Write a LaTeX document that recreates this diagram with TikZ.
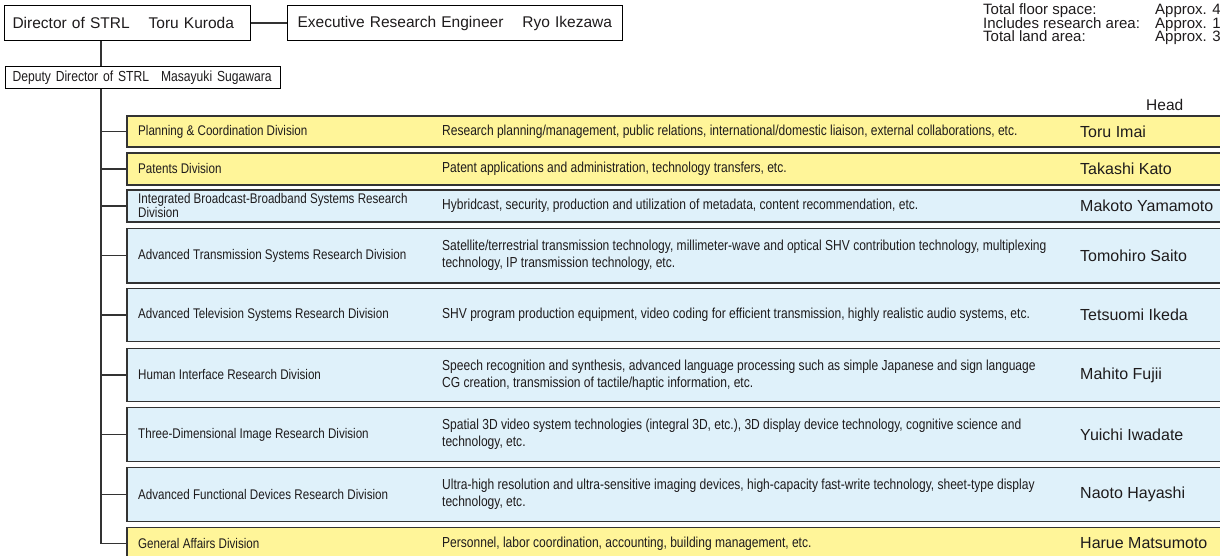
\documentclass[tikz,border=0pt]{standalone}
\usepackage{fontspec}
\setmainfont{Liberation Sans}
\newfontfamily\narrowfont{Liberation Sans}[FakeStretch=0.83]
\definecolor{rowyellow}{HTML}{FFF599}
\definecolor{rowblue}{HTML}{DFF1FA}
\definecolor{linegray}{HTML}{333333}
\definecolor{txt}{HTML}{1E1B1C}
\begin{document}
\begin{tikzpicture}[x=1pt,y=-1pt,
  topbox/.style={draw=black, line width=1.1pt, fill=white, anchor=north west, inner ysep=0pt, align=left, text=txt},
  rowbox/.style={draw=linegray, line width=1.8pt, anchor=north west, minimum width=1110pt, inner sep=0pt},
  conn/.style={draw=linegray, line width=1.5pt},
  divname/.style={font=\narrowfont\fontsize{14}{12.5}\selectfont, anchor=west, align=left, inner sep=0pt, text=txt},
  desc/.style={font=\narrowfont\fontsize{14.5}{17}\selectfont, anchor=west, align=left, inner sep=0pt, text=txt},
  headname/.style={font=\fontsize{16}{18}\selectfont, anchor=west, inner sep=0pt, text=txt},
  info/.style={font=\fontsize{15}{16}\selectfont, anchor=base west, inner sep=0pt, text=txt}
]
\useasboundingbox (0,0) rectangle (1220,556);

% top boxes
\node[topbox, inner xsep=8pt, text width=230pt, minimum height=35pt, font=\fontsize{15.5}{18}\selectfont] (dir) at (4,5)
  {\mbox{Director of STRL\hspace{19pt}Toru Kuroda}};
\node[topbox, inner xsep=10pt, text width=315pt, minimum height=35pt, font=\fontsize{15.5}{18}\selectfont] (exe) at (287,5)
  {\mbox{Executive Research Engineer\hspace{19pt}Ryo Ikezawa}};
\node[topbox, inner xsep=7pt, text width=261pt, minimum height=22pt, font=\narrowfont\fontsize{14.6}{18}\selectfont] (dep) at (5,66)
  {\mbox{Deputy Director of STRL\hspace{12pt}Masayuki Sugawara}};

% info text
\node[info] (i1) at (983,15) {Total floor space:};
\node[info] (i2) at (983,28.5) {Includes research area:};
\node[info] (i3) at (983,42) {Total land area:};
\node[info] (v1) at (1155,15) {Approx. 4};
\node[info] (v2) at (1155,28.5) {Approx. 1};
\node[info] (v3) at (1155,42) {Approx. 3};
\node[info, font=\fontsize{15.5}{18}\selectfont] (head) at (1146,110.5) {Head};

% rows
\node[rowbox, fill=rowyellow, minimum height=31pt] (r1) at (126,115) {};
\node[rowbox, fill=rowyellow, minimum height=32pt] (r2) at (126,152) {};
\node[rowbox, fill=rowblue, minimum height=32pt] (r3) at (126,189) {};
\node[rowbox, fill=rowblue, minimum height=54.5pt] (r4) at (126,227.5) {};
\node[rowbox, fill=rowblue, minimum height=53pt] (r5) at (126,287.5) {};
\node[rowbox, fill=rowblue, minimum height=53pt] (r6) at (126,347.5) {};
\node[rowbox, fill=rowblue, minimum height=54pt] (r7) at (126,406.5) {};
\node[rowbox, fill=rowblue, minimum height=54pt] (r8) at (126,466.5) {};
\node[rowbox, fill=rowyellow, minimum height=32pt] (r9) at (126,526.5) {};

\coordinate (tx) at (101,0);
\coordinate (nx) at (138,0);
\coordinate (dx) at (442,0);
\coordinate (hx) at (1080,0);

% connectors
\draw[conn] (dir.east) -- (exe.west);
\draw[conn] (dir.south -| tx) -- (dep.north -| tx);
\draw[conn] (dep.south -| tx) |- (r9.west);
\foreach \i in {1,...,8} {\draw[conn] (r\i.west -| tx) -- (r\i.west);}

% row texts
\node[divname] (n1) at (r1.west -| nx) {Planning \& Coordination Division};
\node[desc] (e1) at (r1.west -| dx) {Research planning/management, public relations, international/domestic liaison, external collaborations, etc.};
\node[headname] (h1) at (r1.west -| hx) {Toru Imai};

\node[divname] (n2) at (r2.west -| nx) {Patents Division};
\node[desc] (e2) at (r2.west -| dx) {Patent applications and administration, technology transfers, etc.};
\node[headname] (h2) at (r2.west -| hx) {Takashi Kato};

\node[divname] (n3) at (r3.west -| nx) {Integrated Broadcast-Broadband Systems Research\\Division};
\node[desc] (e3) at (r3.west -| dx) {Hybridcast, security, production and utilization of metadata, content recommendation, etc.};
\node[headname] (h3) at (r3.west -| hx) {Makoto Yamamoto};

\node[divname] (n4) at (r4.west -| nx) {Advanced Transmission Systems Research Division};
\node[desc] (e4) at (r4.west -| dx) {Satellite/terrestrial transmission technology, millimeter-wave and optical SHV contribution technology, multiplexing\\technology, IP transmission technology, etc.};
\node[headname] (h4) at (r4.west -| hx) {Tomohiro Saito};

\node[divname] (n5) at (r5.west -| nx) {Advanced Television Systems Research Division};
\node[desc] (e5) at (r5.west -| dx) {SHV program production equipment, video coding for efficient transmission, highly realistic audio systems, etc.};
\node[headname] (h5) at (r5.west -| hx) {Tetsuomi Ikeda};

\node[divname] (n6) at (r6.west -| nx) {Human Interface Research Division};
\node[desc] (e6) at (r6.west -| dx) {Speech recognition and synthesis, advanced language processing such as simple Japanese and sign language\\CG creation, transmission of tactile/haptic information, etc.};
\node[headname] (h6) at (r6.west -| hx) {Mahito Fujii};

\node[divname] (n7) at (r7.west -| nx) {Three-Dimensional Image Research Division};
\node[desc] (e7) at (r7.west -| dx) {Spatial 3D video system technologies (integral 3D, etc.), 3D display device technology, cognitive science and\\technology, etc.};
\node[headname] (h7) at (r7.west -| hx) {Yuichi Iwadate};

\node[divname] (n8) at (r8.west -| nx) {Advanced Functional Devices Research Division};
\node[desc] (e8) at (r8.west -| dx) {Ultra-high resolution and ultra-sensitive imaging devices, high-capacity fast-write technology, sheet-type display\\technology, etc.};
\node[headname] (h8) at (r8.west -| hx) {Naoto Hayashi};

\node[divname] (n9) at (r9.west -| nx) {General Affairs Division};
\node[desc] (e9) at (r9.west -| dx) {Personnel, labor coordination, accounting, building management, etc.};
\node[headname] (h9) at (r9.west -| hx) {Harue Matsumoto};
\end{tikzpicture}
\end{document}
